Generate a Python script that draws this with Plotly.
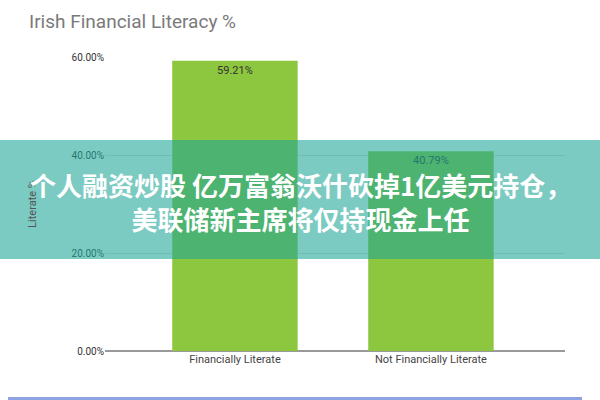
import plotly.graph_objects as go

categories = ["Financially Literate", "Not Financially Literate"]
values = [59.21, 40.79]
value_labels = ["59.21%", "40.79%"]
y_ticks = [0, 20, 40, 60]
y_tick_labels = ["0.00%", "20.00%", "40.00%", "60.00%"]
title_text = "Irish Financial Literacy %"
y_title = "Literate %"
overlay_lines = ["个人融资炒股 亿万富翁沃什砍掉1亿美元持仓，", "美联储新主席将仅持现金上任"]

L, R, T, B = 105, 35, 57, 49
W, H = 600, 400
pw, ph = W - L - R, H - T - B

def px_x(p):
    return (p - L) / pw

def px_y(p):
    return (H - B - p) / ph

fig = go.Figure()
fig.add_trace(go.Bar(
    x=[0, 1], y=values, width=0.64,
    marker=dict(color="#8dc63f", line=dict(width=0)),
    text=value_labels, textposition="inside", insidetextanchor="end",
    textfont=dict(family="Roboto", size=11, color="#333333"),
    hoverinfo="skip",
))

fig.update_layout(
    width=W, height=H,
    margin=dict(l=L, r=R, t=T, b=B),
    paper_bgcolor="white", plot_bgcolor="white",
    showlegend=False,
    font=dict(family="Roboto"),
    xaxis=dict(
        range=[-0.663, 1.684], tickvals=[0, 1], ticktext=categories,
        showgrid=False, zeroline=False, showline=False, ticks="",
        tickfont=dict(size=11, color="#444444"),
    ),
    yaxis=dict(
        range=[0, 60], tickvals=y_ticks, ticktext=y_tick_labels,
        showgrid=True, gridcolor="#dddddd", gridwidth=1,
        zeroline=True, zerolinecolor="#999999", zerolinewidth=1.5,
        ticks="", tickfont=dict(size=10, color="#333333"),
        title=dict(text=y_title, font=dict(size=11, color="#555555"), standoff=32),
    ),
    annotations=[
        dict(text=title_text, xref="paper", yref="paper",
             x=px_x(27), y=px_y(22), xanchor="left", yanchor="middle",
             showarrow=False, font=dict(family="Roboto", size=19, color="#7a7a7a")),
        dict(text="<br>".join(overlay_lines), xref="paper", yref="paper",
             x=px_x(300), y=px_y(201.5), xanchor="center", yanchor="middle",
             align="center", showarrow=False,
             font=dict(family="Noto Sans CJK SC", size=26, color="white", weight="bold")),
    ],
    shapes=[
        dict(type="rect", xref="paper", yref="paper",
             x0=px_x(0), x1=px_x(600), y0=px_y(259), y1=px_y(140),
             fillcolor="rgba(30,165,150,0.58)", line=dict(width=0), layer="above"),
        dict(type="rect", xref="paper", yref="paper",
             x0=px_x(8), x1=px_x(582), y0=px_y(400), y1=px_y(397),
             fillcolor="#8ea2e3", line=dict(width=0), layer="above"),
    ],
)

fig.write_html("out.html", config={"displayModeBar": False},
               post_script="document.body.style.margin='0';document.body.style.padding='0';")
